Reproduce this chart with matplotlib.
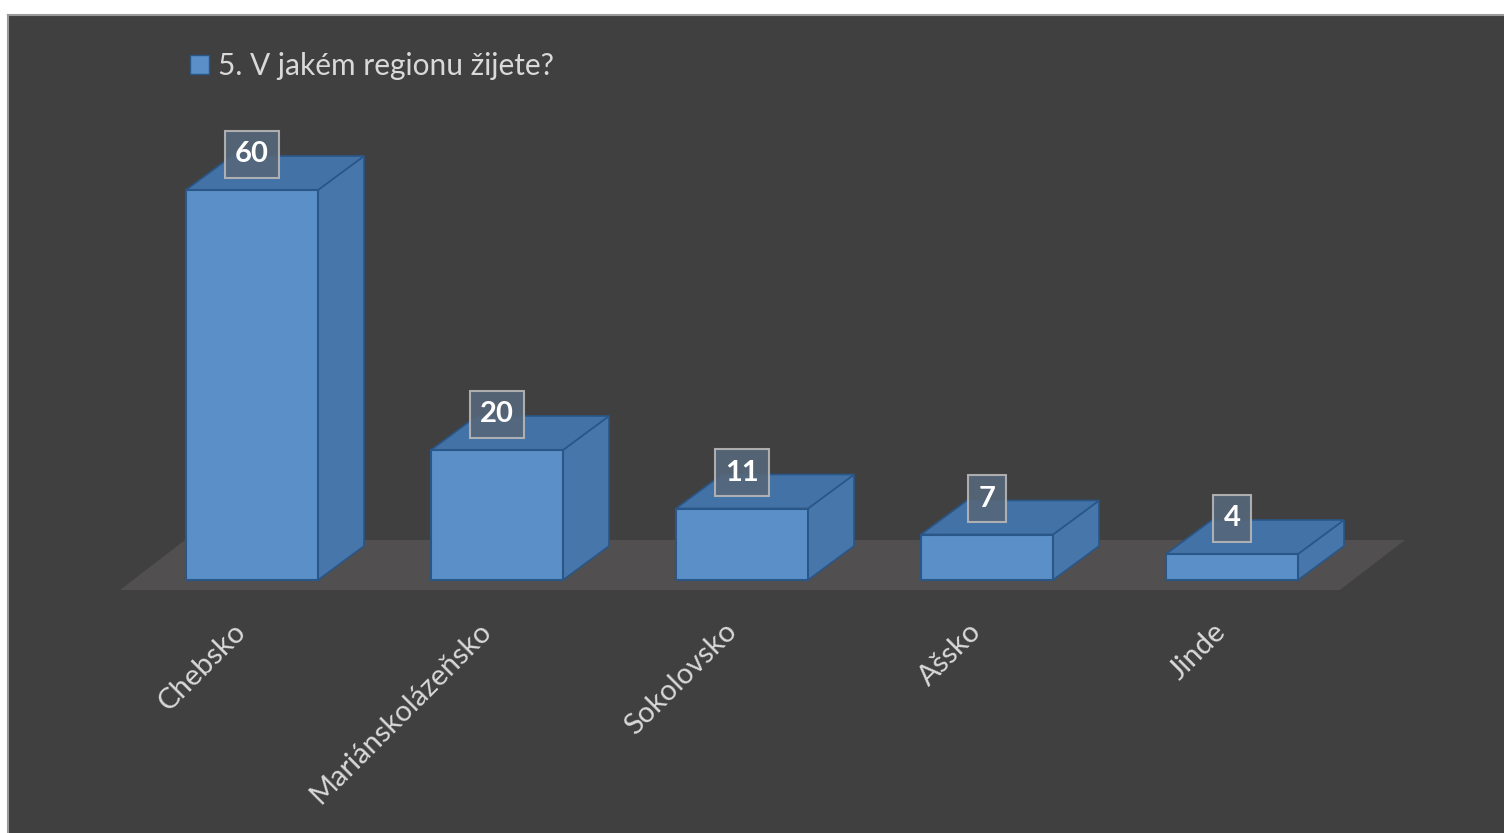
import matplotlib
matplotlib.use("Agg")
import matplotlib.pyplot as plt
from matplotlib.patches import Rectangle, Polygon, Patch

categories = ["Chebsko", "Mariánskolázeňsko", "Sokolovsko", "Ašsko", "Jinde"]
values = [60, 20, 11, 7, 4]
series_name = "5. V jakém regionu žijete?"

BG = "#404040"
FRONT = "#5a8fc8"
TOP = "#4272a6"
SIDE = "#4676aa"
EDGE = "#2a5688"
FLOOR = "#514f4f"
TEXT = "#d9d9d9"

plt.rcParams["font.family"] = ["Lato", "DejaVu Sans"]

W, H, DPI = 1504, 833, 100
fig = plt.figure(figsize=(W / DPI, H / DPI), dpi=DPI, facecolor="white")
left_px, top_px = 8, 15
ax = fig.add_axes([left_px / W, 0, 1 - left_px / W, 1 - top_px / H])
ax.set_facecolor(BG)

# pixel scale: one category = 245 px, one unit of value = 6.5 px
px_x, px_y = 245.0, 6.5
x0_px, y0_px = 252, 580
ax.set_xlim((left_px - x0_px) / px_x, (W - x0_px) / px_x)
ax.set_ylim(-(H - y0_px) / px_y, (y0_px - top_px) / px_y)

bar_w = 132 / px_x
dx, dy = 46 / px_x, 34 / px_y

# floor
fl_front, fl_back = -10 / px_y, 40 / px_y
fl_l = (120 - x0_px) / px_x
fl_r = (1340 - x0_px) / px_x
fdx = 65 / px_x
ax.add_patch(Polygon([(fl_l, fl_front), (fl_r, fl_front),
                      (fl_r + fdx, fl_back), (fl_l + fdx, fl_back)],
                     closed=True, facecolor=FLOOR, edgecolor="none", zorder=1))

for i, v in enumerate(values):
    xl, xr = i - bar_w / 2, i + bar_w / 2
    side = Polygon([(xr, 0), (xr + dx, dy), (xr + dx, v + dy), (xr, v)],
                   closed=True, facecolor=SIDE, edgecolor=EDGE, lw=1.2, zorder=2)
    top = Polygon([(xl, v), (xr, v), (xr + dx, v + dy), (xl + dx, v + dy)],
                  closed=True, facecolor=TOP, edgecolor=EDGE, lw=1.2, zorder=2)
    front = Rectangle((xl, 0), bar_w, v, facecolor=FRONT, edgecolor=EDGE,
                      lw=1.5, zorder=3)
    for p in (side, top, front):
        ax.add_patch(p)
    ax.text(i, v + dy + 0.3, str(v), ha="center", va="center", color="white",
            fontsize=21, fontweight="bold", zorder=5,
            bbox=dict(boxstyle="square,pad=0.36", facecolor="#56677a",
                      edgecolor="#b8b8b8", lw=1.5, alpha=0.9))
    ax.text(i - 19 / px_x, -38 / px_y, categories[i], rotation=45,
            rotation_mode="anchor", ha="right", va="top", color=TEXT,
            fontsize=21, zorder=4)

ax.set_xticks([])
ax.set_yticks([])
for s in ("right", "bottom"):
    ax.spines[s].set_visible(False)
for s in ("top", "left"):
    ax.spines[s].set_color("#9a9a9a")
    ax.spines[s].set_linewidth(1.5)

leg = ax.legend(handles=[Patch(facecolor=FRONT, edgecolor=EDGE, label=series_name)],
                loc="upper left", bbox_to_anchor=((190 - left_px) / (W - left_px), 1 - 37 / (H - top_px)),
                frameon=False, fontsize=21.5, handlelength=0.65, handleheight=0.65,
                handletextpad=0.3, borderpad=0, borderaxespad=0)
for t in leg.get_texts():
    t.set_color(TEXT)

fig.savefig("out.png", dpi=DPI, facecolor="white")
